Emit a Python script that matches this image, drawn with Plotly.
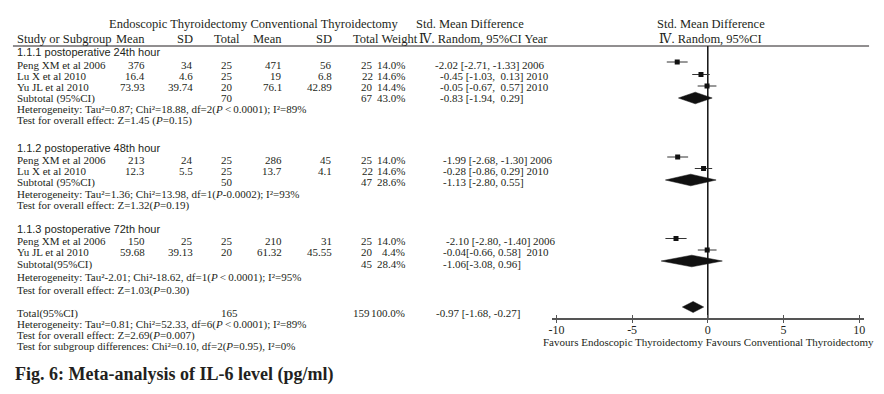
import plotly.graph_objects as go

W, H = 884, 394

# ---------------- data ----------------
group_titles = ["1.1.1 postoperative 24th hour",
                "1.1.2 postoperative 48th hour",
                "1.1.3 postoperative 72th hour"]
study = ["Peng XM et al 2006", "Lu X et al 2010", "Yu JL et al 2010",
         "Peng XM et al 2006", "Lu X et al 2010",
         "Peng XM et al 2006", "Yu JL et al 2010"]
endo_mean = ["376", "16.4", "73.93", "213", "12.3", "150", "59.68"]
endo_sd = ["34", "4.6", "39.74", "24", "5.5", "25", "39.13"]
endo_n = ["25", "25", "20", "25", "25", "25", "20"]
conv_mean = ["471", "19", "76.1", "286", "13.7", "210", "61.32"]
conv_sd = ["56", "6.8", "42.89", "45", "4.1", "31", "45.55"]
conv_n = ["25", "22", "20", "25", "22", "25", "20"]
weight = ["14.0%", "14.6%", "14.4%", "14.0%", "14.6%", "14.0%", "4.4%"]
smd = [-2.02, -0.45, -0.05, -1.99, -0.28, -2.10, -0.04]
ci_lo = [-2.71, -1.03, -0.67, -2.68, -0.86, -2.80, -0.66]
ci_hi = [-1.33, 0.13, 0.57, -1.30, 0.29, -1.40, 0.58]
ci_text = ["-2.02 [-2.71, -1.33] 2006", "-0.45 [-1.03,\u00a0 0.13] 2010",
           "-0.05 [-0.67,\u00a0 0.57] 2010", "-1.99 [-2.68, -1.30] 2006",
           "-0.28 [-0.86, 0.29] 2010", "-2.10 [-2.80, -1.40] 2006",
           "-0.04[-0.66, 0.58]\u00a0 2010"]

sub_label = ["Subtotal (95%CI)", "Subtotal (95%CI)", "Subtotal(95%CI)"]
sub_endo_n = ["70", "50", ""]
sub_conv_n = ["67", "47", "45"]
sub_weight = ["43.0%", "28.6%", "28.4%"]
sub_smd = [-0.83, -1.13, -1.06]
sub_lo = [-1.94, -2.80, -3.08]
sub_hi = [0.29, 0.55, 0.96]
sub_ci_text = ["-0.83 [-1.94,\u00a0 0.29]", "-1.13 [-2.80, 0.55]", "-1.06[-3.08, 0.96]"]
sub_het = ["Heterogeneity: Tau\u00b2=0.87; Chi\u00b2=18.88, df=2(<i>P</i>\u2009<\u20090.0001); I\u00b2=89%",
           "Heterogeneity: Tau\u00b2=1.36; Chi\u00b2=13.98, df=1(<i>P</i>-0.0002); I\u00b2=93%",
           "Heterogeneity: Tau\u00b2-2.01; Chi\u00b2-18.62, df=1(<i>P</i>\u2009<\u20090.0001); I\u00b2=95%"]
sub_test = ["Test for overall effect: Z=1.45 (<i>P</i>=0.15)",
            "Test for overall effect: Z=1.32(<i>P</i>=0.19)",
            "Test for overall effect: Z=1.03(<i>P</i>=0.30)"]

total_label = "Total(95%CI)"
total_endo_n = "165"
total_conv_n = "159"
total_weight = "100.0%"
total_smd = -0.97
total_lo = -1.68
total_hi = -0.27
total_ci_text = "-0.97 [-1.68, -0.27]"
total_lines = ["Heterogeneity: Tau\u00b2=0.81; Chi\u00b2=52.33, df=6(<i>P</i>\u2009<\u20090.0001); I\u00b2=89%",
               "Test for overall effect: Z=2.69(<i>P</i>=0.007)",
               "Test for subgroup differences: Chi\u00b2=0.10, df=2(<i>P</i>=0.95), I\u00b2=0%"]

x_ticks = [-10, -5, 0, 5, 10]
x_tick_labels = ["-10", "-5", "0", "5", "10"]

# ---------------- layout (pixel rows) ----------------
study_rows = [64.5, 76, 87, 159.5, 170.5, 240.5, 252]
marker_rows = [62, 74.5, 86, 157, 168.5, 238.5, 250]
group_rows = [52, 147.5, 228.5]
sub_rows = [98, 182, 264]
diamond_rows = [98, 180, 261]
het_rows = [109, 194, 277]
test_rows = [120, 205, 290]
total_row = 313
total_diamond_row = 307
total_line_rows = [324, 335, 346]

SERIF = "Liberation Serif, DejaVu Serif, serif"
SANS = "Liberation Sans"
TXT = "#231f20"
BODY = 11
HEAD = 12.5

ann = []


def text(x, y, s, anchor="left", size=BODY, family=SERIF, color=TXT):
    ann.append(dict(x=x / W, y=y, xref="paper", yref="y", text=s, showarrow=False,
                    xanchor=anchor, yanchor="middle",
                    font=dict(family=family, size=size, color=color)))


# header
text(104, 24, "Endoscopic Thyroidectomy Conventional Thyroidectomy", size=HEAD)
text(413, 24, "Std. Mean Difference", size=HEAD)
text(711, 24, "Std. Mean Difference", anchor="center", size=HEAD)
text(12, 38.5, "Study or Subgroup", size=HEAD)
text(145, 38.5, "Mean", anchor="right", size=HEAD)
text(193, 38.5, "SD", anchor="right", size=HEAD)
text(225, 38.5, "Total", anchor="center", size=HEAD)
text(282, 38.5, "Mean", anchor="right", size=HEAD)
text(333, 38.5, "SD", anchor="right", size=HEAD)
text(350, 38.5, "Total Weight", size=HEAD)
text(416, 38.5, "\u2163. Random, 95%CI Year", size=HEAD, family="DejaVu Serif, Liberation Serif")
ann[-1]["text"] = ("<span style='font-family:DejaVu Serif'>\u2163</span>"
                   "<span style='font-family:Liberation Serif'>. Random, 95%CI Year</span>")
text(711, 38.5, "\u2163. Random, 95%CI", anchor="center", size=HEAD)
ann[-1]["text"] = ("<span style='font-family:DejaVu Serif'>\u2163</span>"
                   "<span style='font-family:Liberation Serif'>. Random, 95%CI</span>")

ci_left = [432, 437, 437, 440, 440, 443, 440]
sub_ci_left = [437, 440, 440]

for g in range(3):
    text(12, group_rows[g], group_titles[g], family=SANS, size=BODY)

for i in range(len(study)):
    y = study_rows[i]
    text(12, y, study[i])
    text(145, y, endo_mean[i], anchor="right")
    text(193, y, endo_sd[i], anchor="right")
    text(225, y, endo_n[i], anchor="center")
    text(282, y, conv_mean[i], anchor="right")
    text(333, y, conv_sd[i], anchor="right")
    text(366, y, conv_n[i], anchor="center")
    text(406, y, weight[i], anchor="right")
    text(ci_left[i], y, ci_text[i])

for g in range(3):
    y = sub_rows[g]
    text(12, y, sub_label[g])
    if sub_endo_n[g]:
        text(225, y, sub_endo_n[g], anchor="center")
    text(366, y, sub_conv_n[g], anchor="center")
    text(406, y, sub_weight[g], anchor="right")
    text(sub_ci_left[g], y, sub_ci_text[g])
    text(12, het_rows[g], sub_het[g])
    text(12, test_rows[g], sub_test[g])

text(12, total_row, total_label)
text(228, total_row, total_endo_n, anchor="center")
text(371, total_row, total_conv_n, anchor="right")
text(406, total_row, total_weight, anchor="right")
text(433, total_row, total_ci_text)
for s, y in zip(total_lines, total_line_rows):
    text(12, y, s)

text(709, 342, "Favours Endoscopic Thyroidectomy Favours Conventional Thyroidectomy",
     anchor="center")

ann.append(dict(x=10 / W, y=374, xref="paper", yref="y", showarrow=False,
                text="<b>Fig. 6: Meta-analysis of IL-6 level (pg/ml)</b>",
                xanchor="left", yanchor="middle",
                font=dict(family=SERIF, size=18, color=TXT)))

# ---------------- traces ----------------
fig = go.Figure()

# zero line
fig.add_trace(go.Scatter(x=[0, 0], y=[46, 319], mode="lines",
                         line=dict(color="#111111", width=1.5),
                         hoverinfo="skip", showlegend=False))

# study estimates with CIs
fig.add_trace(go.Scatter(
    x=smd, y=marker_rows, mode="markers",
    marker=dict(symbol="square", size=5, color="#111111"),
    error_x=dict(type="data", symmetric=False,
                 array=[h - m for h, m in zip(ci_hi, smd)],
                 arrayminus=[m - l for m, l in zip(smd, ci_lo)],
                 color="#333333", thickness=1, width=0),
    showlegend=False, hoverinfo="skip"))


def diamond(est, lo, hi, y, h):
    fig.add_trace(go.Scatter(
        x=[lo, est, hi, est, lo], y=[y, y - h, y, y + h, y],
        mode="lines", fill="toself", fillcolor="#111111",
        line=dict(color="#111111", width=0.5),
        showlegend=False, hoverinfo="skip"))


for g in range(3):
    diamond(sub_smd[g], sub_lo[g], sub_hi[g], diamond_rows[g], 5.8)
diamond(total_smd, total_lo, total_hi, total_diamond_row, 5.5)

# invisible trace to activate the second (tick-only) x axis
fig.add_trace(go.Scatter(x=[0], y=[-50], xaxis="x2", yaxis="y", mode="markers",
                         marker=dict(opacity=0), showlegend=False, hoverinfo="skip"))

AX_POS = 1 - 319 / H
DOM = [551.4 / W, 864.6 / W]

fig.update_layout(
    width=W, height=H, autosize=False,
    margin=dict(l=0, r=0, t=0, b=0),
    paper_bgcolor="white", plot_bgcolor="rgba(0,0,0,0)",
    annotations=ann,
    shapes=[dict(type="line", xref="paper", yref="y", x0=10 / W, x1=870 / W,
                 y0=46, y1=46, line=dict(color="#231f20", width=1))],
    xaxis=dict(domain=DOM, range=[-10.3, 10.3],
               anchor="free", position=AX_POS,
               showline=True, linecolor="#555555", linewidth=1.5,
               ticks="inside", ticklen=3, tickcolor="#555555", tickwidth=1,
               tickvals=x_ticks, ticktext=x_tick_labels,
               tickfont=dict(family=SERIF, size=12, color=TXT),
               showgrid=False, zeroline=False, fixedrange=True),
    xaxis2=dict(domain=DOM, range=[-10.3, 10.3], matches="x", overlaying="x",
                anchor="free", position=AX_POS,
                showline=False, ticks="outside", ticklen=3, tickcolor="#555555",
                tickwidth=1, tickvals=x_ticks, showticklabels=False,
                showgrid=False, zeroline=False, fixedrange=True),
    yaxis=dict(domain=[0, 1], range=[H, 0], visible=False, fixedrange=True),
)

fig.write_html("out.html", config={"displayModeBar": False},
               post_script="document.body.style.margin='0px';")
